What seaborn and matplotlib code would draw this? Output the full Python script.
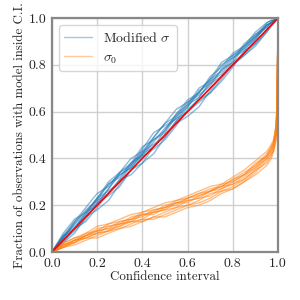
import numpy as np
import pandas as pd
import seaborn as sns
import matplotlib
matplotlib.use("Agg")
import matplotlib.pyplot as plt

X = [0, .05, .1, .15, .2, .25, .3, .35, .4, .45, .5, .55, .6, .65, .7, .75,
     .8, .85, .9, .95, .97, .98, .99, .995, 1.0]

blue_runs = [
    [0,.06,.12,.18,.22,.29,.33,.36,.42,.49,.55,.58,.62,.68,.74,.77,.83,.87,.91,.97,.98,.985,.993,.997,1],
    [0,.04,.08,.15,.18,.22,.29,.35,.38,.42,.49,.55,.58,.62,.69,.75,.80,.84,.88,.94,.965,.975,.988,.994,1],
    [0,.07,.13,.19,.25,.28,.34,.40,.43,.49,.55,.61,.64,.68,.75,.79,.85,.88,.92,.97,.98,.99,.995,.998,1],
    [0,.06,.10,.17,.23,.26,.30,.37,.43,.46,.49,.56,.62,.69,.72,.75,.81,.88,.92,.96,.98,.985,.992,.996,1],
    [0,.07,.11,.15,.21,.27,.34,.38,.41,.47,.53,.57,.60,.66,.72,.78,.81,.85,.91,.97,.98,.985,.993,.997,1],
    [0,.06,.12,.16,.23,.30,.34,.37,.44,.51,.54,.57,.63,.70,.73,.76,.82,.89,.93,.96,.985,.99,.995,.997,1],
    [0,.04,.10,.13,.19,.25,.31,.33,.38,.45,.50,.56,.60,.64,.68,.74,.80,.84,.89,.95,.97,.98,.99,.995,1],
    [0,.08,.14,.17,.23,.29,.32,.38,.45,.48,.52,.59,.65,.68,.74,.81,.84,.88,.94,.98,.99,.99,.995,.997,1],
    [0,.06,.13,.17,.20,.27,.33,.36,.42,.48,.51,.58,.64,.67,.71,.78,.84,.87,.93,.97,.98,.988,.994,.997,1],
    [0,.07,.10,.16,.22,.25,.31,.38,.42,.45,.52,.59,.63,.66,.73,.80,.83,.86,.92,.98,.99,.99,.996,.998,1],
    [0,.05,.09,.14,.21,.24,.28,.35,.41,.44,.48,.54,.61,.65,.68,.73,.79,.86,.89,.94,.97,.98,.99,.995,1],
]

orange_runs = [
    [0,.03,.05,.08,.09,.10,.13,.14,.15,.18,.19,.20,.23,.24,.26,.29,.30,.33,.38,.41,.44,.46,.52,.60,1],
    [0,.02,.03,.05,.07,.09,.10,.12,.14,.14,.16,.18,.20,.21,.23,.26,.27,.30,.34,.39,.42,.43,.48,.57,1],
    [0,.04,.06,.08,.11,.12,.14,.16,.17,.19,.21,.22,.24,.26,.28,.29,.32,.35,.39,.43,.46,.48,.53,.62,1],
    [0,.02,.04,.06,.06,.08,.10,.11,.13,.15,.15,.17,.19,.20,.22,.25,.27,.30,.33,.37,.40,.43,.47,.55,1],
    [0,.025,.05,.06,.08,.11,.12,.13,.16,.17,.18,.21,.22,.23,.26,.28,.29,.32,.36,.41,.43,.45,.50,.59,1],
    [0,.03,.04,.07,.09,.10,.11,.14,.16,.16,.19,.21,.21,.24,.26,.27,.30,.33,.36,.40,.44,.46,.51,.58,1],
    [0,.02,.05,.06,.08,.09,.12,.13,.14,.17,.18,.19,.22,.23,.24,.27,.29,.31,.35,.40,.42,.45,.50,.58,1],
    [0,.035,.06,.07,.09,.12,.13,.14,.17,.18,.19,.22,.23,.25,.27,.28,.31,.34,.37,.42,.45,.47,.54,.63,1],
    [0,.02,.04,.07,.08,.09,.11,.13,.13,.15,.17,.19,.20,.22,.25,.26,.28,.31,.35,.38,.41,.44,.49,.57,1],
    [0,.03,.05,.07,.10,.11,.12,.15,.16,.17,.20,.21,.23,.25,.26,.28,.31,.33,.37,.41,.45,.47,.53,.61,1],
]

LABEL_BLUE = r"Modified $\sigma$"
LABEL_ORANGE = r"$\sigma_0$"

rows = []
for i, run in enumerate(blue_runs):
    for x, y in zip(X, run):
        rows.append(dict(x=x, y=y, run=f"b{i}", model=LABEL_BLUE))
for i, run in enumerate(orange_runs):
    for x, y in zip(X, run):
        rows.append(dict(x=x, y=y, run=f"o{i}", model=LABEL_ORANGE))
df = pd.DataFrame(rows)

sns.set_style("white")
plt.rcParams["font.family"] = "serif"
plt.rcParams["font.serif"] = ["cmr10", "DejaVu Serif"]
plt.rcParams["mathtext.fontset"] = "cm"
plt.rcParams["axes.formatter.use_mathtext"] = True

fig = plt.figure(figsize=(3, 3), dpi=100)
ax = fig.add_axes([0.173, 0.16, 0.754, 0.78])

sns.lineplot(data=df, x="x", y="y", hue="model", units="run", estimator=None,
             palette={LABEL_BLUE: "#1f77b4", LABEL_ORANGE: "#ff7f0e"},
             alpha=0.5, linewidth=1.0, ax=ax, legend=True)
diag = pd.DataFrame({"x": [0, 1], "y": [0, 1]})
sns.lineplot(data=diag, x="x", y="y", color="red", linewidth=1.2, ax=ax)

ax.set_xlim(0, 1)
ax.set_ylim(0, 1)
ticks = [0, 0.2, 0.4, 0.6, 0.8, 1.0]
tlabels = ["0.0", "0.2", "0.4", "0.6", "0.8", "1.0"]
ax.set_xticks(ticks)
ax.set_yticks(ticks)
ax.set_xticklabels(tlabels)
ax.set_yticklabels(tlabels)
ax.grid(True, color="#d0d0d0", linewidth=1.0)
ax.set_axisbelow(True)
for s in ax.spines.values():
    s.set_color("#888888")
    s.set_linewidth(1.6)
ax.tick_params(direction="out", length=3, width=1, color="#888888", labelsize=10, pad=1)
ax.set_xlabel("Confidence interval", fontsize=9.3, labelpad=1)
ax.set_ylabel("Fraction of observations with model inside C.I.", fontsize=9.3, labelpad=2)

leg = ax.legend(loc="upper left", fontsize=10, frameon=True, fancybox=True)
leg.get_frame().set_edgecolor("#cccccc")
for h in leg.get_lines():
    h.set_alpha(0.4)

fig.savefig("out.png", dpi=100)
